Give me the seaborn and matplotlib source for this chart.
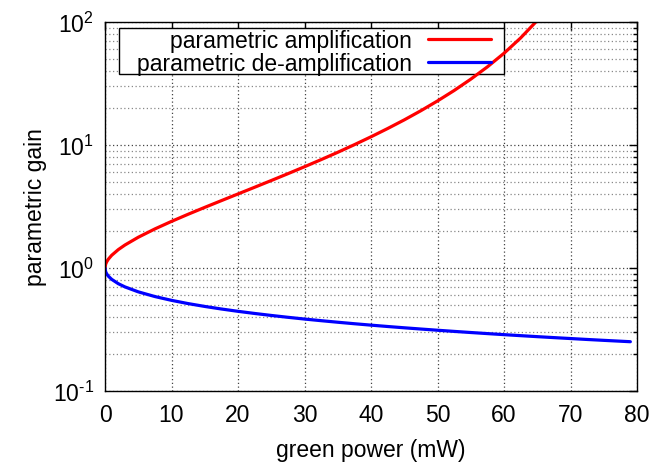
import numpy as np
import pandas as pd
import matplotlib
matplotlib.use("Agg")
import matplotlib.pyplot as plt
import seaborn as sns
from matplotlib.patches import Rectangle
from matplotlib.ticker import LogLocator, NullFormatter, MultipleLocator, FuncFormatter

# ---- data ----
power_amp = [0, 0.1, 0.25, 0.5, 1, 2, 3, 5, 7.5, 10, 12.5, 15, 17.5, 20, 22.5, 25,
             27.5, 30, 32.5, 35, 37.5, 40, 42.5, 45, 47.5, 50, 52.5, 55, 57.5, 60,
             62.5, 65, 66]
gain_amp = [1.0, 1.075, 1.122, 1.179, 1.268, 1.411, 1.538, 1.778, 2.078, 2.393, 2.735,
            3.111, 3.529, 4.000, 4.533, 5.142, 5.843, 6.656, 7.606, 8.722, 10.06, 11.66,
            13.61, 16.00, 19.00, 22.81, 27.73, 34.28, 43.17, 55.69, 74.19, 102.9, 118.9]

power_deamp = [0, 0.1, 0.25, 0.5, 1, 2, 3, 5, 7.5, 10, 12.5, 15, 17.5, 20, 22.5, 25,
               27.5, 30, 32.5, 35, 37.5, 40, 42.5, 45, 47.5, 50, 52.5, 55, 57.5, 60,
               62.5, 65, 67.5, 70, 72.5, 75, 77.5, 79]
gain_deamp = [1.0, 0.9329, 0.8969, 0.8588, 0.8090, 0.7456, 0.7019, 0.640, 0.5861, 0.5458,
              0.5136, 0.4870, 0.4642, 0.4444, 0.4270, 0.4114, 0.3974, 0.3846, 0.3730,
              0.3623, 0.3523, 0.3431, 0.3345, 0.3265, 0.3190, 0.3119, 0.3052, 0.2989,
              0.2929, 0.2872, 0.2818, 0.2766, 0.2717, 0.2670, 0.2624, 0.2581, 0.2540,
              0.2516]

label_amp = "parametric amplification"
label_deamp = "parametric de-amplification"
x_label = "green power (mW)"
y_label = "parametric gain"

# ---- style ----
sns.set_style("white")
plt.rcParams["font.family"] = ["Liberation Sans", "DejaVu Sans"]
plt.rcParams["mathtext.fontset"] = "custom"
plt.rcParams["mathtext.rm"] = "Liberation Sans"
plt.rcParams["mathtext.it"] = "Liberation Sans:italic"
plt.rcParams["text.color"] = "black"
plt.rcParams["axes.labelcolor"] = "black"

FS = 16.5

fig = plt.figure(figsize=(6.53, 4.64), dpi=100)
ax = fig.add_axes([105 / 653, 1 - 392 / 464, (637 - 105) / 653, (392 - 23) / 464])
ax.set_axisbelow(True)

df_amp = pd.DataFrame({"power": power_amp, "gain": gain_amp})
df_de = pd.DataFrame({"power": power_deamp, "gain": gain_deamp})

sns.lineplot(data=df_amp, x="power", y="gain", color="#ff0000", lw=2.3,
             label=label_amp, ax=ax, zorder=5)
sns.lineplot(data=df_de, x="power", y="gain", color="#0000ff", lw=2.3,
             label=label_deamp, ax=ax, zorder=5)

ax.set_yscale("log")
ax.set_xlim(0, 80)
ax.set_ylim(0.1, 100)
ax.xaxis.set_major_locator(MultipleLocator(10))
ax.yaxis.set_major_locator(LogLocator(base=10, numticks=10))
ax.yaxis.set_minor_locator(LogLocator(base=10, subs=np.arange(2, 10), numticks=20))
ax.yaxis.set_minor_formatter(NullFormatter())
ax.yaxis.set_major_formatter(FuncFormatter(
    lambda v, p: r"$\mathregular{10^{%s}}$" % ("%d" % round(np.log10(v))).replace("-", "\u2010")))

ax.grid(which="major", axis="both", color="#444444", linestyle=(0, (1, 2)), lw=0.9)
ax.grid(which="minor", axis="y", color="#888888", linestyle=(0, (1, 2)), lw=0.9)

ax.tick_params(which="both", direction="in", top=True, right=True, colors="black",
               labelsize=FS, labelcolor="black")
ax.tick_params(which="major", length=6, width=1)
ax.tick_params(which="minor", length=3, width=1)
ax.tick_params(axis="x", pad=9)
ax.tick_params(axis="y", pad=8)

for s in ax.spines.values():
    s.set_color("black")
    s.set_linewidth(1.0)
    s.set_zorder(10)

ax.set_xlabel(x_label, fontsize=FS, labelpad=8)
ax.set_ylabel(y_label, fontsize=FS, labelpad=4)

# legend frame (white box, drawn under the curves like gnuplot)
ax.add_patch(Rectangle((14 / 532, 1 - 52 / 369), (504 - 119) / 532, 46 / 369,
                       transform=ax.transAxes, facecolor="white", edgecolor="black",
                       lw=1.0, zorder=3))

leg = ax.legend(loc="upper right", bbox_to_anchor=((491 - 105) / 532, 1 - 7 / 369),
                borderaxespad=0, markerfirst=False, frameon=False, fontsize=FS,
                handlelength=2.75, handletextpad=0.7, borderpad=0.0,
                labelspacing=0.0)
leg.set_zorder(6)

fig.savefig("out.png", dpi=100)
